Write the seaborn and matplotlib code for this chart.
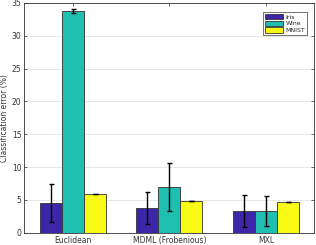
import pandas as pd
import numpy as np
import matplotlib
matplotlib.use('Agg')
import matplotlib.pyplot as plt
import seaborn as sns

# valores
metodos = ['Euclidean', 'MDML (Frobenious)', 'MXL']
datasets = ['Iris', 'Wine', 'MNIST']
erro_iris = [4.5, 3.8, 3.3]
erro_wine = [33.8, 7.0, 3.3]
erro_mnist = [5.9, 4.85, 4.7]
std_iris = [2.9, 2.4, 2.5]
std_wine = [0.3, 3.65, 2.3]
std_mnist = [0.05, 0.05, 0.05]

cores = ['#3e26a8', '#1ebfb0', '#f9fb15']

data = pd.DataFrame({
    'Metodo': metodos * 3,
    'Dataset': [d for d in datasets for _ in metodos],
    'Erro': erro_iris + erro_wine + erro_mnist,
    'Std': std_iris + std_wine + std_mnist,
})

sns.set_style('white')
plt.rcParams['font.family'] = ['DejaVu Sans']

fig, ax = plt.subplots(figsize=(3.16, 2.45), dpi=100)
fig.subplots_adjust(left=0.077, right=0.995, bottom=0.05, top=0.988)

sns.barplot(data=data, x='Metodo', y='Erro', hue='Dataset', order=metodos,
            hue_order=datasets, palette=cores, width=0.68, errorbar=None,
            edgecolor='#333333', linewidth=0.6, saturation=1, ax=ax)

# barras de erro nas posições das barras
for patch, (_, linha) in zip(ax.patches, data.iterrows()):
    cx = patch.get_x() + patch.get_width() / 2
    ax.errorbar(cx, patch.get_height(), yerr=linha['Std'], fmt='none',
                ecolor='black', elinewidth=1.0, capsize=1.8, capthick=1.0)

ax.set_xlim(-0.5, 2.5)
ax.set_ylim(0, 35)
ax.set_yticks(range(0, 36, 5))
ax.yaxis.grid(True, color='#e3e3e3', linewidth=0.6)
ax.set_axisbelow(True)
ax.set_xlabel('')
ax.set_ylabel('Classification error (%)', fontsize=5.5, color='#333333', labelpad=2)
ax.tick_params(axis='both', labelsize=5.5, colors='#333333', direction='in',
               length=2, width=0.5, pad=2, top=True, right=True, bottom=True, left=True)
for s in ax.spines.values():
    s.set_color('#333333')
    s.set_linewidth(0.6)

leg = ax.legend(loc='upper right', fontsize=4.5, frameon=True, fancybox=False,
                edgecolor='#333333', handlelength=3.0, handleheight=1.0,
                borderpad=0.3, labelspacing=0.15, handletextpad=0.3,
                bbox_to_anchor=(0.985, 0.975))
leg.get_frame().set_linewidth(0.6)

plt.savefig('out.png', dpi=100)
